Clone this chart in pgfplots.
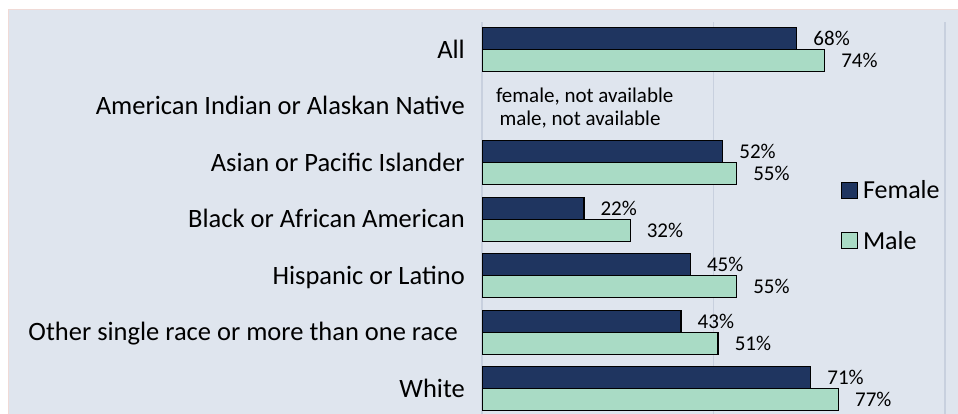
\documentclass[border=0pt]{standalone}
\usepackage{fontspec}
\setmainfont{Carlito}
\usepackage{pgfplots}
\pgfplotsset{compat=1.18}
\definecolor{bg}{RGB}{223,229,238}
\definecolor{navy}{RGB}{31,53,96}
\definecolor{mint}{RGB}{169,219,197}
\definecolor{gridc}{RGB}{200,208,222}
\definecolor{edgec}{RGB}{240,218,214}
\begin{document}
\begin{tikzpicture}[x=1pt,y=1pt]
\path[use as bounding box] (0,0) rectangle (958,414);
\clip (0,0) rectangle (958,414);
\fill[white] (0,0) rectangle (958,414);
\filldraw[fill=bg, draw=edgec, line width=0.8pt] (8,-5) rectangle (963,405);
\begin{axis}[
  at={(482pt,-3pt)}, anchor=south west, scale only axis,
  width=463pt, height=395.5pt,
  xmin=0, xmax=100, ymin=-0.5, ymax=6.5,
  xtick={0,50,100}, xticklabels={}, xmajorgrids,
  major grid style={draw=gridc, line width=1.2pt},
  ytick={0,1,2,3,4,5,6},
  yticklabels={White, Other single race or more than one race\hspace*{7pt}, Hispanic or Latino, Black or African American, Asian or Pacific Islander, American Indian or Alaskan Native, All},
  yticklabel style={font=\fontsize{26.5}{30}\selectfont, anchor=base east, inner sep=0pt, xshift=-17pt, yshift=-8.5pt},
  axis line style={draw=none}, tick style={draw=none},
  point meta=x,
  nodes near coords={\pgfmathprintnumber[assume math mode=true]{\pgfplotspointmeta}\%},
  nodes near coords style={font=\fontsize{21}{24}\selectfont, anchor=west, inner sep=0pt, xshift=16pt, text=black},
  legend style={draw=none, fill=none, at={(0.7745,0.606)}, anchor=north west, inner sep=0pt,
    font=\fontsize{26}{30}\selectfont, row sep=25pt, nodes={inner sep=3pt}},
  legend cell align=left,
]
\addplot[xbar, bar width=22pt, bar shift=11pt, fill=navy, draw=black, line width=1.3pt,
  nodes near coords style={yshift=11pt},
  legend image code/.code={\draw[fill=navy, draw=black, line width=1.2pt] (0pt,-8pt) rectangle (16pt,8pt);}]
  coordinates {(68,6) (52,4) (22,3) (45,2) (43,1) (71,0)};
\addlegendentry{\hspace*{2pt}Female}
\addplot[xbar, bar width=22pt, bar shift=-11pt, fill=mint, draw=black, line width=1.3pt,
  nodes near coords style={yshift=-11pt},
  legend image code/.code={\draw[fill=mint, draw=black, line width=1.2pt] (0pt,-8pt) rectangle (16pt,8pt);}]
  coordinates {(74,6) (55,4) (32,3) (55,2) (51,1) (77,0)};
\addlegendentry{\hspace*{2pt}Male}
\node[anchor=base west, inner sep=0pt, font=\fontsize{21}{24}\selectfont, yshift=3.75pt] at (axis cs:3,5) {female, not available};
\node[anchor=base west, inner sep=0pt, font=\fontsize{21}{24}\selectfont, yshift=-19pt] at (axis cs:3,5) {\hspace*{3.5pt}male, not available};
\end{axis}
\end{tikzpicture}
\end{document}
